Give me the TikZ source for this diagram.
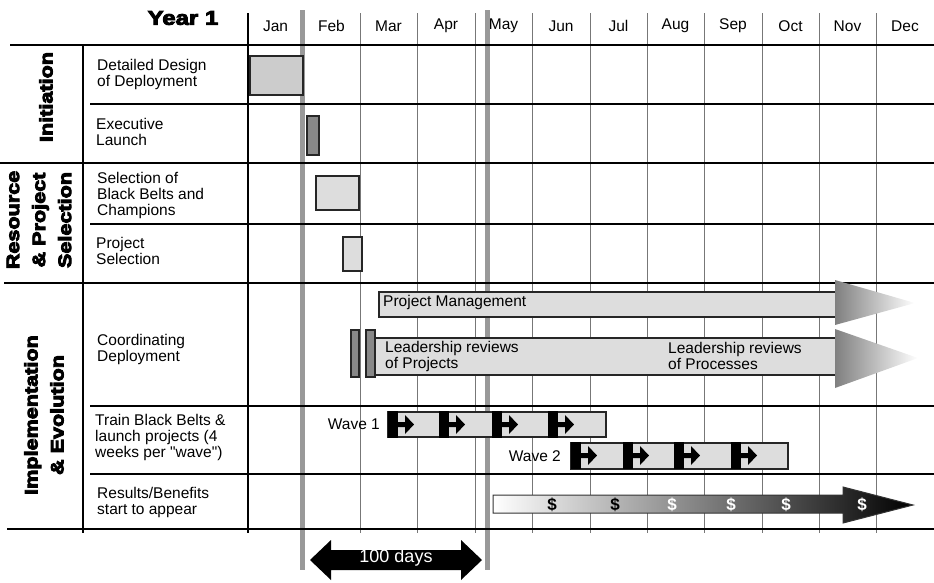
\documentclass[tikz,border=0pt]{standalone}
\usepackage{fontspec}
\setmainfont{Liberation Sans}
\newfontfamily\heavy{Liberation Sans Bold}[FakeStretch=1.2]
\newfontfamily\plainsans{Liberation Sans}
% heavier strokes: fill and outline the glyphs
\newcommand\blackface[1]{\special{pdf:literal direct 2 Tr 0.9 w}#1\special{pdf:literal direct 0 Tr}}
\newcommand\straightquote{{\plainsans\symbol{34}}}
\definecolor{barlight}{HTML}{DDDDDD}
\definecolor{barmid}{HTML}{CCCCCC}
\definecolor{bardark}{HTML}{888888}
\definecolor{guidegray}{HTML}{999999}
\definecolor{gridgray}{HTML}{777777}
\begin{document}
\begin{tikzpicture}[x=1pt,y=-1pt,
  txt/.style={font=\fontsize{15.5}{16}\selectfont, inner sep=0pt},
  rowlbl/.style={txt, align=left, anchor=west},
  catlbl/.style={font=\heavy\fontsize{18}{26}\selectfont, align=center, rotate=90, inner sep=0pt},
  rule/.style={line width=1.8pt},
  monthline/.style={draw=gridgray, line width=0.9pt},
  guide/.style={draw=guidegray, line width=5pt},
  taskbar/.style={draw=black!85, line width=1.3pt},
  launch/.pic={
    \fill (0,-1) rectangle (10,26);
    \fill (10,10) -- (17,10) -- (17,3) -- (26,12.5) -- (17,22) -- (17,15) -- (10,15) -- cycle;
  }
]
\useasboundingbox (0,0) rectangle (934,582);

% month grid
\foreach \x in {303,360,417,475,532,590,647,704,762,819,876}
  \draw[monthline] (\x,13) -- (\x,533);
\draw[line width=1.3pt] (248,13) -- (248,533);
\draw[line width=1.3pt] (83,45) -- (83,533);

% 100-day window
\draw[guide] (302,10) -- (302,570);
\draw[guide] (487,10) -- (487,570);

% row rules
\draw[rule] (10,45) -- (934,45);
\draw[rule] (90,104) -- (934,104);
\draw[rule] (0,163) -- (934,163);
\draw[rule] (90,224) -- (934,224);
\draw[rule] (4,283) -- (934,283);
\draw[rule] (90,406) -- (934,406);
\draw[rule] (90,474) -- (934,474);
\draw[rule] (7,529) -- (934,529);

% header
\node[font=\heavy\fontsize{20}{22}\selectfont, inner sep=0pt] (year) at (183,18) {\blackface{Year 1}};
\foreach \m/\x [count=\i] in {Jan/275.5,Feb/331.5,Mar/388.5,Apr/446,May/503.5,Jun/561,Jul/618.5,Aug/675.5,Sep/733,Oct/790.5,Nov/847.5,Dec/905}
  \node[txt] (m\i) at (\x,26) {\m};

% phases
\node[catlbl] (initiation) at (46,97) {\blackface{Initiation}};
\node[catlbl] (resource) at (39,220) {\blackface{Resource}\\\blackface{\& Project}\\\blackface{Selection}};
\node[catlbl] (implementation) at (44,415) {\blackface{Implementation}\\\blackface{\& Evolution}};

% activities
\node[rowlbl] (r1) at (97,74) {Detailed Design\\of Deployment};
\node[rowlbl] (r2) at (96,132) {Executive\\Launch};
\node[rowlbl] (r3) at (97,195) {Selection of\\Black Belts and\\Champions};
\node[rowlbl] (r4) at (96,251) {Project\\Selection};
\node[rowlbl] (r5) at (97,349) {Coordinating\\Deployment};
\node[rowlbl] (r6) at (95,437) {Train Black Belts \&\\launch projects (4\\weeks per \straightquote wave\straightquote)};
\node[rowlbl] (r7) at (97,502) {Results/Benefits\\start to appear};

% early tasks
\draw[taskbar, fill=barmid] (250,56) rectangle (303,95);
\draw[taskbar, fill=bardark] (307,116) rectangle (319,155);
\draw[taskbar, fill=barlight] (316,176) rectangle (359,210);
\draw[taskbar, fill=barlight] (343,237) rectangle (362,271);

% project management
\draw[taskbar, fill=barlight] (379,292) rectangle (836,317);
\shade[left color=black!50, right color=white] (835,280) -- (915,303) -- (835,325) -- cycle;
\node[txt, anchor=west] (pm) at (383,302) {Project Management};

% leadership reviews
\draw[taskbar, fill=bardark] (351,330) rectangle (359,377);
\draw[taskbar, fill=bardark] (366,330) rectangle (375,377);
\draw[taskbar, fill=barlight] (375,338) rectangle (836,375);
\shade[left color=black!50, right color=white] (835,329) -- (918,358) -- (835,388) -- cycle;
\node[txt, align=left, anchor=west] (lrproj) at (385,356) {Leadership reviews\\of Projects};
\node[txt, align=left, anchor=west] (lrproc) at (668,356) {Leadership reviews\\of Processes};

% training waves
\draw[taskbar, fill=barlight] (388,412) rectangle (606,437);
\foreach \x in {388,439,492,548} \pic at (\x,412) {launch};
\node[txt, anchor=east] (w1) at (380,424) {Wave 1};
\draw[taskbar, fill=barlight] (571,443) rectangle (788,469);
\foreach \x in {571,623,674,731} \pic at (\x,443) {launch};
\node[txt, anchor=east] (w2) at (561,456) {Wave 2};

% results
\shade[left color=white, right color=black, draw=black!80, line width=1pt]
  (493,495) -- (843,495) -- (843,487) -- (913,505) -- (843,523) -- (843,513) -- (493,513) -- cycle;
\foreach \x/\c [count=\i] in {552/black,615/black,672/white,731/white,786/white,862/white}
  \node[txt, text=\c, font=\bfseries\fontsize{17}{18}\selectfont] (d\i) at (\x,505) {\$};

% hundred days span
\fill (310,560) -- (331,540) -- (331,550) -- (461,550) -- (461,540) -- (482,560) -- (461,580) -- (461,570) -- (331,570) -- (331,580) -- cycle;
\node[txt, text=white, font=\fontsize{18}{18}\selectfont] (days) at (396,558) {100 days};
\end{tikzpicture}
\end{document}
